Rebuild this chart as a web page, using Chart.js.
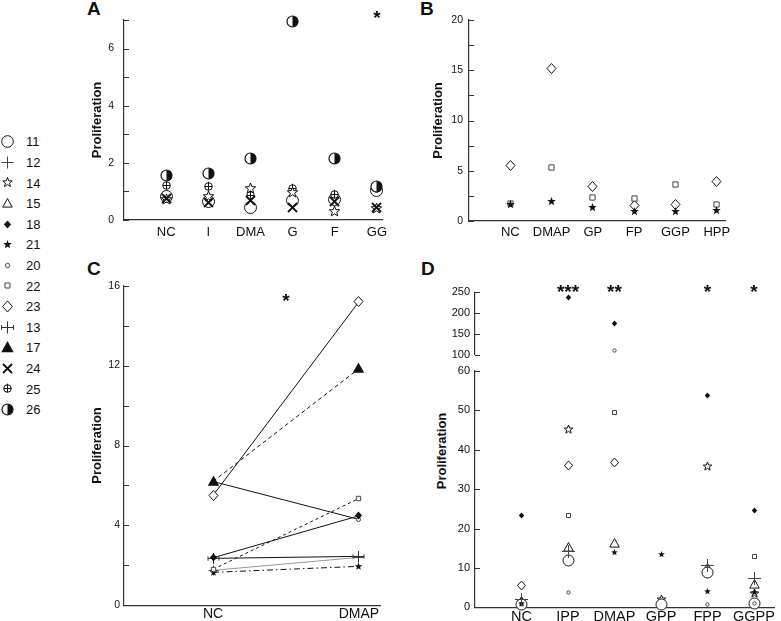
<!DOCTYPE html>
<html><head><meta charset="utf-8">
<script src="https://cdn.jsdelivr.net/npm/chart.js@4"></script>
<style>
html,body{margin:0;padding:0;background:#fff;}
#wrap{position:relative;width:781px;height:621px;overflow:hidden;font-family:'Liberation Sans',Arial,Helvetica,sans-serif;color:#111;}
.lbl{position:absolute;font-weight:bold;font-size:19px;line-height:19px;color:#111;}
.lg{position:absolute;left:26px;font-size:13px;line-height:13px;color:#111;}
.ttl{position:absolute;font-weight:bold;font-size:13px;line-height:13px;white-space:nowrap;color:#111;transform:translate(-50%,-50%) rotate(-90deg);}
</style></head><body>
<div id="wrap">
  <div class="lbl" style="left:87px;top:-1px">A</div>
  <div class="lbl" style="left:420px;top:-1px">B</div>
  <div class="lbl" style="left:87px;top:259px">C</div>
  <div class="lbl" style="left:421px;top:259px">D</div>
  <div class="ttl" style="left:441px;top:451px">Proliferation</div>
</div>
<script>
// ---------------- DATA ----------------
const catsA = ['NC','I','DMA','G','F','GG'];
const A_11 = [0.82, 0.65, 0.44, 0.70, 0.72, 1.05];
const A_14 = [0.72, 0.81, 1.10, 0.97, 0.30, 0.42];
const A_24 = [0.75, 0.62, 0.70, 0.45, 0.64, 0.43];
const A_25 = [1.22, 1.19, 0.87, 1.10, 0.90, 1.10];
const A_26 = [1.57, 1.63, 2.17, 6.95, 2.15, 1.16];
const sigA = ['', '', '', '', '', '*'];
const ticksA = [0, 2, 4, 6];
const minorA = [1, 3, 5, 7];

const catsB = ['NC','DMAP','GP','FP','GGP','HPP'];
const B_21 = [1.60, 1.92, 1.39, 0.93, 0.97, 1.06];
const B_22 = [1.75, 5.36, 2.35, 2.25, 3.64, 1.69];
const B_23 = [5.55, 15.2, 3.47, 1.50, 1.65, 3.94];
const ticksB = [0, 5, 10, 15, 20];
const minorB = [2.5, 7.5, 12.5, 17.5];

const catsC = ['NC','DMAP'];
const C_23 = [5.5, 15.2];
const C_17 = [6.2, 11.85];
const C_20 = [6.2, 4.3];
const C_22 = [1.8, 5.35];
const C_18 = [2.38, 4.48];
const C_13 = [2.35, 2.45];
const C_12 = [1.75, 2.4];
const C_21 = [1.65, 1.95];
const sigC = '*';
const ticksC = [0, 4, 8, 12, 16];
const minorC = [2, 6, 10, 14];

const catsD = ['NC','IPP','DMAP','GPP','FPP','GGPP'];
const D_11 = [0.7, 12.0, null, 0.6, 8.9, 1.0];
const D_12 = [2.0, 14.1, null, null, 10.7, 7.4];
const D_14 = [1.3, 45.1, null, 2.0, 35.8, 3.5];
const D_15 = [1.5, 15.2, 16.1, null, 9.9, 5.9];
const D_18 = [23.35, 238, 174, null, 53.8, 24.7];
const D_21 = [1.0, null, 13.9, 13.45, 4.1, 3.7];
const D_20 = [0.8, 3.8, 111, null, 0.8, 1.0];
const D_22 = [1.2, 23.4, 49.5, null, null, 13.0];
const D_23 = [5.58, 36.1, 36.7, null, null, null];
const sigD = ['', '***', '**', '', '*', '*'];
const ticksDlow = [0, 10, 20, 30, 40, 50, 60];
const ticksDup = [100, 150, 200, 250];

const legendIds = ['11','12','14','15','18','21','20','22','23','13','17','24','25','26'];

// ---------------- STYLE / HELPERS ----------------
const F = "'Liberation Sans', Arial, Helvetica, sans-serif";
const INK = '#111', AX = '#333', GREY = '#444';
const wrap = document.getElementById('wrap');

function sym(type, sz, col) {
  col = col || INK;
  const S = 2 * Math.ceil(sz + 2) + 1;
  const c = document.createElement('canvas'); c.width = c.height = S;
  const g = c.getContext('2d'); const m = S / 2;
  g.lineWidth = 1; g.strokeStyle = col; g.fillStyle = '#fff';
  const star = (R, r) => { g.beginPath(); for (let i = 0; i < 10; i++) { const a = -Math.PI/2 + i*Math.PI/5; const rr = i % 2 ? r : R; g.lineTo(m + rr*Math.cos(a), m + rr*Math.sin(a)); } g.closePath(); };
  const line = (x1,y1,x2,y2) => { g.beginPath(); g.moveTo(x1,y1); g.lineTo(x2,y2); g.stroke(); };
  switch (type) {
    case 'circ': g.beginPath(); g.arc(m,m,sz,0,2*Math.PI); g.fill(); g.stroke(); break;
    case 'half':
      g.beginPath(); g.arc(m,m,sz,0,2*Math.PI); g.fill();
      g.beginPath(); g.arc(m,m,sz,-Math.PI/2,Math.PI/2); g.closePath(); g.fillStyle = col; g.fill();
      g.beginPath(); g.arc(m,m,sz,0,2*Math.PI); g.lineWidth = 1.2; g.stroke(); break;
    case 'oplus':
      g.beginPath(); g.arc(m,m,sz,0,2*Math.PI); g.fill(); g.stroke();
      line(m-sz,m,m+sz,m); line(m,m-sz-1,m,m+sz); break;
    case 'x': g.lineWidth = 1.8; line(m-sz,m-sz,m+sz,m+sz); line(m-sz,m+sz,m+sz,m-sz); break;
    case 'plus': line(m-sz,m,m+sz,m); line(m,m-sz,m,m+sz); break;
    case 'ebar': line(m-sz,m,m+sz,m); line(m,m-sz,m,m+sz); line(m-sz,m-sz*0.4,m-sz,m+sz*0.4); line(m+sz,m-sz*0.4,m+sz,m+sz*0.4); break;
    case 'staro': star(sz, sz*0.42); g.fill(); g.stroke(); break;
    case 'starf': star(sz, sz*0.42); g.fillStyle = col; g.fill(); break;
    case 'tri': case 'trif':
      g.beginPath(); g.moveTo(m, m-sz); g.lineTo(m+sz*0.95, m+sz*0.72); g.lineTo(m-sz*0.95, m+sz*0.72); g.closePath();
      if (type === 'trif') { g.fillStyle = col; g.fill(); } else { g.fill(); g.stroke(); } break;
    case 'dmdo': case 'dmdf':
      g.beginPath(); g.moveTo(m, m-sz); g.lineTo(m+sz*0.9, m); g.lineTo(m, m+sz); g.lineTo(m-sz*0.9, m); g.closePath();
      if (type === 'dmdf') { g.fillStyle = col; g.fill(); } else { g.fill(); g.stroke(); } break;
    case 'sq': g.beginPath(); g.rect(m-sz, m-sz, 2*sz, 2*sz); g.fill(); g.stroke(); break;
    case 'smc': g.beginPath(); g.arc(m,m,sz,0,2*Math.PI); g.fill(); g.stroke(); break;
  }
  return c;
}

const sigPlugin = {
  id: 'sig',
  afterDatasetsDraw(chart, args, opts) {
    if (!opts || !opts.items) return;
    const ctx = chart.ctx, xs = chart.scales.x, size = opts.size || 19;
    ctx.save();
    ctx.font = 'bold ' + size + 'px ' + F;
    ctx.textAlign = 'center'; ctx.textBaseline = 'alphabetic'; ctx.fillStyle = INK;
    opts.items.forEach(it => {
      if (!it.text) return;
      ctx.fillText(it.text, xs.getPixelForValue(it.x), chart.chartArea.top + opts.dy + 0.58 * size);
    });
    ctx.restore();
  }
};
const inTicks = {
  id: 'inTicks',
  beforeDatasetsDraw(chart) { chart.ctx.imageSmoothingEnabled = false; },
  afterDraw(chart, args, opts) {
    if (!opts || !opts.values) return;
    const ys = chart.scales.y, ctx = chart.ctx, x0 = chart.chartArea.left;
    ctx.save(); ctx.strokeStyle = AX; ctx.lineWidth = 1;
    opts.values.forEach(v => {
      const py = Math.round(ys.getPixelForValue(v)) + 0.5;
      ctx.beginPath(); ctx.moveTo(x0, py); ctx.lineTo(x0 + opts.len, py); ctx.stroke();
    });
    ctx.restore();
  }
};
Chart.register(sigPlugin, inTicks);

function makeChart(left, top, W, H, area, xs, ys, datasets, sig) {
  const cv = document.createElement('canvas');
  cv.width = W; cv.height = H;
  cv.style.cssText = 'position:absolute;left:' + left + 'px;top:' + top + 'px;width:' + W + 'px;height:' + H + 'px;';
  wrap.appendChild(cv);
  const bp = xs.display === false ? H - area.B : 0;
  return new Chart(cv.getContext('2d'), {
    type: 'scatter',
    data: { datasets },
    options: {
      responsive: false, maintainAspectRatio: false, animation: false, devicePixelRatio: 1, events: [],
      layout: { padding: { left: 0, top: area.T, right: W - area.R, bottom: bp } },
      plugins: { legend: { display: false }, tooltip: { enabled: false },
        sig: sig || {}, inTicks: { values: ys.minor.concat(ys.ticks), len: 5 } },
      scales: {
        x: {
          type: 'linear', min: xs.min, max: xs.max, display: xs.display !== false,
          grid: { display: false, drawTicks: false },
          border: { display: true, color: AX, width: 1.2 },
          ticks: { font: { family: F, size: xs.size }, color: INK, padding: xs.pad, autoSkip: false, maxRotation: 0, minRotation: 0,
            callback: v => { const i = xs.pos.indexOf(v); return i >= 0 ? xs.labels[i] : ''; } },
          afterBuildTicks: s => { s.ticks = xs.pos.map(v => ({ value: v })); },
          afterFit: s => { s.height = H - area.B; }
        },
        y: {
          type: 'linear', min: ys.min, max: ys.max,
          grid: { display: false, drawTicks: false },
          border: { display: true, color: AX, width: 1.2 },
          ticks: { font: { family: F, size: ys.size }, color: INK, padding: ys.pad },
          afterBuildTicks: s => { s.ticks = ys.ticks.map(v => ({ value: v })); },
          afterFit: s => { s.width = area.L; },
          title: ys.title ? { display: true, text: 'Proliferation', color: INK, font: { family: F, size: 13, weight: 'bold' }, padding: { top: ys.tpad, bottom: 0 } } : { display: false }
        }
      }
    }
  });
}

const P = vals => vals.map((v, i) => v == null ? null : { x: i + 1, y: v }).filter(Boolean);
const PLow = vals => vals.map((v, i) => v != null && v <= 60 ? { x: i + 1, y: v } : null).filter(Boolean);
const PUp = vals => vals.map((v, i) => v != null && v >= 100 ? { x: i + 1, y: v } : null).filter(Boolean);
const PC = vals => vals.map((v, i) => ({ x: i, y: v }));
function pd(data, style, extra) {
  return Object.assign({ data, pointStyle: style, pointRadius: 6, showLine: false, clip: false }, extra || {});
}
const pos6 = [1, 2, 3, 4, 5, 6];

// ---------------- PANEL A ----------------
makeChart(80, 0, 320, 250, { L: 44, T: 20, R: 302, B: 220 },
  { min: 0, max: 6.12, pos: pos6, labels: catsA, size: 13, pad: 5 },
  { min: 0, max: 7, ticks: ticksA, minor: minorA, size: 10.5, pad: 10, title: true, tpad: 9.7 },
  [ pd(P(A_24), sym('x', 4.5)), pd(P(A_14), sym('staro', 5.5)), pd(P(A_26), sym('half', 5.5)),
    pd(P(A_25), sym('oplus', 3.8)), pd(P(A_11), sym('circ', 6)) ],
  { items: sigA.map((t, i) => ({ x: i + 1, text: t })), dy: -7, size: 19 });

// ---------------- PANEL B ----------------
makeChart(400, 0, 381, 250, { L: 69, T: 20, R: 325, B: 221 },
  { min: 0, max: 6.2, pos: pos6, labels: catsB, size: 13, pad: 4 },
  { min: 0, max: 20, ticks: ticksB, minor: minorB, size: 10.5, pad: 6, title: true, tpad: 30.7 },
  [ pd(P(B_21), sym('starf', 4.5)), pd(P(B_22), sym('sq', 2.6, GREY)), pd(P(B_23), sym('dmdo', 5)) ]);

// ---------------- PANEL C ----------------
const lineOpt = (col, dash) => ({ showLine: true, borderColor: col, borderWidth: 1, borderDash: dash || [] });
makeChart(80, 250, 320, 371, { L: 44, T: 35.7, R: 300, B: 355.3 },
  { min: -0.61, max: 1.144, pos: [0, 1], labels: catsC, size: 14, pad: 0 },
  { min: 0, max: 16, ticks: ticksC, minor: minorC, size: 10.5, pad: 4, title: true, tpad: 9.7 },
  [ pd(PC(C_17), sym('trif', 6), lineOpt(INK, [4, 3])),
    pd(PC(C_23), sym('dmdo', 5), lineOpt(INK)),
    pd(PC(C_18), sym('dmdf', 4), lineOpt(INK)),
    pd(PC(C_20), sym('smc', 2, GREY), lineOpt(INK)),
    pd(PC(C_22), sym('sq', 2.2, GREY), lineOpt(INK, [3, 3])),
    pd(PC(C_13), sym('ebar', 5.5, '#333'), lineOpt(INK)),
    pd(PC(C_21), sym('starf', 4), lineOpt(INK, [6, 3, 1.5, 3])),
    pd(PC(C_12), sym('plus', 5, GREY), lineOpt('#999')) ],
  { items: [{ x: 0.5, text: sigC }], dy: 10.3, size: 19 });

// ---------------- PANEL D ----------------
const dStyles = {
  11: sym('circ', 5.5), 12: sym('plus', 6.5, GREY), 14: sym('staro', 4.5), 15: sym('tri', 5),
  18: sym('dmdf', 3), 21: sym('starf', 3.5), 20: sym('smc', 1.7, GREY), 22: sym('sq', 2, GREY), 23: sym('dmdo', 4.5)
};
const dSeries = [[D_12, 12], [D_21, 21], [D_20, 20], [D_11, 11], [D_14, 14], [D_15, 15], [D_18, 18], [D_22, 22], [D_23, 23]];
makeChart(400, 270, 381, 100, { L: 75, T: 22.3, R: 378, B: 92.3 },
  { min: 0, max: 6.43, pos: pos6, labels: catsD, size: 14, pad: 0, display: false },
  { min: 100, max: 250, ticks: ticksDup, minor: [], size: 11, pad: 5 },
  dSeries.map(([v, k]) => pd(PUp(v), dStyles[k])),
  { items: sigD.map((t, i) => ({ x: i + 1, text: t })), dy: -5, size: 19 });
makeChart(400, 355, 381, 266, { L: 75, T: 16, R: 378, B: 252.3 },
  { min: 0, max: 6.43, pos: pos6, labels: catsD, size: 14.5, pad: 1 },
  { min: 0, max: 60, ticks: ticksDlow, minor: [], size: 11, pad: 5 },
  dSeries.map(([v, k]) => pd(PLow(v), dStyles[k])));

// ---------------- LEGEND ----------------
const legStyle = {
  '11': ['circ', 5.8], '12': ['plus', 6, GREY], '14': ['staro', 5], '15': ['tri', 5], '18': ['dmdf', 4],
  '21': ['starf', 4.5], '20': ['smc', 2.2, GREY], '22': ['sq', 2.5, GREY], '23': ['dmdo', 5.5], '13': ['ebar', 6, '#333'],
  '17': ['trif', 6.5], '24': ['x', 4.5], '25': ['oplus', 3.8], '26': ['half', 5.5]
};
legendIds.forEach((id, i) => {
  const cy = 141.7 + i * 20.6;
  const st = legStyle[id];
  const c = sym(st[0], st[1], st[2]);
  c.style.cssText = 'position:absolute;left:' + Math.round(7.5 - c.width / 2) + 'px;top:' + Math.round(cy - c.height / 2) + 'px;';
  wrap.appendChild(c);
  const d = document.createElement('div');
  d.className = 'lg'; d.textContent = id; d.style.top = (cy - 6.4) + 'px';
  wrap.appendChild(d);
});
</script>
</body></html>
